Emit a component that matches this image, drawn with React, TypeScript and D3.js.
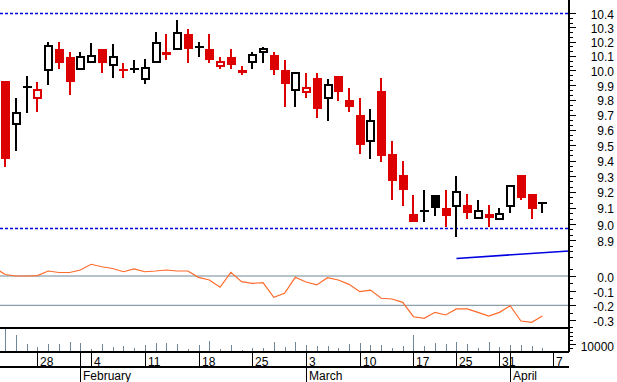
import React from "react";
import * as d3 from "d3";

// ---- data (trading days, Jan 23 2008 .. Apr 4 2008) ----
const dates = [
  "2008-01-23","2008-01-24","2008-01-25",
  "2008-01-28","2008-01-29","2008-01-30","2008-01-31","2008-02-01",
  "2008-02-04","2008-02-05","2008-02-06","2008-02-07","2008-02-08",
  "2008-02-11","2008-02-12","2008-02-13","2008-02-14","2008-02-15",
  "2008-02-18","2008-02-19","2008-02-20","2008-02-21","2008-02-22",
  "2008-02-25","2008-02-26","2008-02-27","2008-02-28","2008-02-29",
  "2008-03-03","2008-03-04","2008-03-05","2008-03-06","2008-03-07",
  "2008-03-10","2008-03-11","2008-03-12","2008-03-13","2008-03-14",
  "2008-03-17","2008-03-18","2008-03-19","2008-03-20",
  "2008-03-25","2008-03-26","2008-03-27","2008-03-28",
  "2008-03-31","2008-04-01","2008-04-02","2008-04-03","2008-04-04",
];
const prevClose = 9.95;
const opens = [9.93,9.64,9.89,9.81,10.00,10.15,10.09,10.01,10.06,10.15,10.04,10.00,10.01,9.94,10.06,10.13,10.15,10.25,10.16,10.15,10.03,10.09,10.00,10.06,10.13,10.11,10.00,9.87,9.85,9.95,9.81,9.96,9.80,9.70,9.53,9.86,9.44,9.31,9.06,9.08,9.18,9.10,9.11,9.12,9.04,9.06,9.03,9.11,9.31,9.19,9.13];
const highs = [9.93,9.81,9.96,9.92,10.20,10.20,10.13,10.13,10.19,10.15,10.18,10.05,10.07,10.08,10.27,10.25,10.35,10.29,10.20,10.25,10.09,10.15,10.03,10.13,10.16,10.13,10.07,9.99,9.98,9.98,9.94,9.96,9.88,9.81,9.74,9.95,9.53,9.40,9.18,9.21,9.18,9.21,9.30,9.19,9.15,9.12,9.10,9.24,9.31,9.19,9.14];
const lows = [9.36,9.46,9.71,9.72,9.90,10.01,9.83,10.01,10.06,9.98,9.95,9.95,9.98,9.91,10.06,10.07,10.14,10.05,10.09,10.05,10.01,10.01,9.97,10.01,10.05,9.97,9.75,9.75,9.81,9.68,9.66,9.79,9.72,9.44,9.41,9.39,9.15,9.11,9.01,9.01,9.05,8.98,8.92,9.03,9.04,8.98,9.03,9.07,9.15,9.03,9.07];
const closes = [9.41,9.71,9.89,9.87,10.17,10.05,9.92,10.09,10.10,10.05,10.09,10.00,10.01,10.02,10.19,10.11,10.26,10.15,10.16,10.07,10.06,10.04,9.98,10.11,10.15,10.00,9.91,9.98,9.88,9.74,9.90,9.85,9.75,9.50,9.66,9.43,9.27,9.21,9.01,9.08,9.10,9.05,9.20,9.07,9.08,9.04,9.06,9.24,9.16,9.09,9.13];
const volumes = [32000,21000,10000,6600,10000,10000,12900,10900,3800,10000,6600,7900,5400,8800,11600,10900,10000,3800,8800,13800,3800,8800,2500,5400,5400,12100,6600,12100,8800,7900,7900,4600,10000,11600,8800,8800,4600,7900,21300,7900,10900,9600,12100,9600,5400,12100,6600,8800,8800,7900,5400];
// oscillator, first value belongs to the day before the first candle (Jan 22)
const oscValues = [0.057,0.010,0.0,0.0,0.003,0.034,0.024,0.024,0.041,0.080,0.063,0.051,0.029,0.048,0.029,0.034,0.041,0.034,0.034,-0.009,-0.027,-0.077,0.025,-0.039,-0.050,-0.046,-0.145,-0.118,-0.009,-0.041,-0.061,-0.012,-0.027,-0.057,-0.107,-0.096,-0.152,-0.157,-0.180,-0.278,-0.289,-0.248,-0.266,-0.225,-0.225,-0.248,-0.273,-0.248,-0.203,-0.307,-0.316,-0.273];
const levels = [10.40, 8.975];
const trendIdx = [42, 52.5];
const trendVals = [8.79, 8.835];
const priceTicks = [10.4,10.3,10.2,10.1,10.0,9.9,9.8,9.7,9.6,9.5,9.4,9.3,9.2,9.1,9.0,8.9];
const oscTicks = [0.0,-0.1,-0.2,-0.3];
const oscLines = [0.0,-0.2];
const volTicks = [10000];
const weekLabels = ["28","4","11","18","25","3","10","17","25","31","7"];
const weekIdx = [3,8,13,18,23,28,33,38,42,46,51];
const monthLabels = ["February","March","April"];
const monthIdx = [7,28,47];

const RED = "#dc0000";
const GREY = "#6f8796";
const FONT = "'Liberation Sans', Arial, sans-serif";

export default function App() {
  const W = 617, H = 382;
  const axisX = 569;
  const x = d3.scaleLinear().domain([0, 50]).range([5.2, 542.4]);
  const yP = d3.scaleLog().domain([9.0, 10.4]).range([224, 13.3]);
  const yO = d3.scaleLinear().domain([0, -0.2]).range([276, 305.3]);
  const yV = d3.scaleLinear().domain([0, 10000]).range([352, 344]);

  const candles = dates.map((d, i) => ({
    i, o: opens[i], h: highs[i], l: lows[i], c: closes[i],
    pc: i === 0 ? prevClose : closes[i - 1],
  }));

  const oscLine = d3.line<number>().x((_, k) => x(k - 1)).y((v) => yO(v));
  const trendLine = d3.line<number>().x((_, k) => x(trendIdx[k])).y((v) => yP(v));

  // minor ticks for price axis
  const minorP: number[] = [];
  for (let k = 0; k <= 48; k++) minorP.push(8.8 + k * (0.1 / 3));

  return (
    <div style={{ position: "absolute", left: 0, top: 0 }}>
      <svg width={W} height={H} style={{ display: "block", background: "#fff" }} fontFamily={FONT}>
        <defs>
          <clipPath id="cp"><rect x={0} y={0} width={axisX} height={265} /></clipPath>
          <clipPath id="co"><rect x={0} y={262} width={axisX} height={66} /></clipPath>
          <clipPath id="cv"><rect x={0} y={328} width={axisX} height={24} /></clipPath>
        </defs>

        {/* price panel */}
        <g clipPath="url(#cp)">
          {levels.map((v, k) => (
            <line key={k} x1={0} x2={axisX} y1={Math.round(yP(v)) + 0.5} y2={Math.round(yP(v)) + 0.5}
              stroke="#0000dd" strokeWidth={1.3} strokeDasharray="3,2" />
          ))}
          <path d={trendLine(trendVals) || ""} fill="none" stroke="#0000e0" strokeWidth={1.5} />
          {candles.map((c) => {
            const cx = Math.round(x(c.i));
            const col = c.c < c.pc ? RED : "#000";
            const top = yP(Math.max(c.o, c.c));
            const bot = yP(Math.min(c.o, c.c));
            const cross = Math.abs(c.c - c.o) < 0.005;
            const filled = c.c < c.o;
            return (
              <g key={c.i} shapeRendering="crispEdges">
                <line x1={cx} x2={cx} y1={yP(c.h)} y2={yP(c.l)} stroke={col} strokeWidth={2} />
                {cross ? (
                  <line x1={cx - 4.5} x2={cx + 4.5} y1={top} y2={top} stroke={col} strokeWidth={2} />
                ) : filled ? (
                  <rect x={cx - 4.5} y={top} width={9} height={Math.max(bot - top, 1)} fill={col} />
                ) : (
                  <rect x={cx - 3.5} y={top} width={7} height={Math.max(bot - top, 1)} fill="#fff" stroke={col} strokeWidth={2} />
                )}
              </g>
            );
          })}
        </g>

        {/* oscillator panel */}
        <g clipPath="url(#co)">
          {oscLines.map((v, k) => (
            <line key={k} x1={0} x2={axisX} y1={yO(v)} y2={yO(v)} stroke={GREY} strokeWidth={1} />
          ))}
          <path d={oscLine(oscValues) || ""} fill="none" stroke="#ff6a2a" strokeWidth={1.2} />
        </g>

        {/* volume panel */}
        <g clipPath="url(#cv)" shapeRendering="crispEdges">
          {volumes.map((v, i) => (
            <line key={i} x1={Math.round(x(i)) + 0.5} x2={Math.round(x(i)) + 0.5} y1={yV(0)} y2={yV(v)} stroke={GREY} strokeWidth={1.5} />
          ))}
        </g>

        {/* frame lines */}
        <g stroke="#000" strokeWidth={1.3} shapeRendering="crispEdges">
          <line x1={0} x2={axisX} y1={328} y2={328} />
          <line x1={0} x2={axisX} y1={352} y2={352} />
          <line x1={0} x2={axisX} y1={367} y2={367} />
          <line x1={axisX} x2={axisX} y1={0} y2={352} />
        </g>

        {/* right axis ticks and labels */}
        <g stroke="#000" strokeWidth={1} shapeRendering="crispEdges">
          {minorP.filter((v) => yP(v) >= 0 && yP(v) <= 262).map((v, k) => (
            <line key={k} x1={axisX} x2={axisX + 4} y1={Math.round(yP(v)) + 0.5} y2={Math.round(yP(v)) + 0.5} />
          ))}
          {priceTicks.map((v, k) => (
            <line key={k} x1={axisX} x2={axisX + 7} y1={Math.round(yP(v)) + 0.5} y2={Math.round(yP(v)) + 0.5} />
          ))}
          {d3.range(0.05, -0.36, -0.05).map((v, k) => (
            <line key={k} x1={axisX} x2={axisX + (Math.abs(Math.round(v * 100)) % 10 === 0 ? 7 : 4)} y1={Math.round(yO(v)) + 0.5} y2={Math.round(yO(v)) + 0.5} />
          ))}
          {[5000, 15000, 20000, 25000].map((v, k) => (
            <line key={k} x1={axisX} x2={axisX + 4} y1={Math.round(yV(v)) + 0.5} y2={Math.round(yV(v)) + 0.5} />
          ))}
          {volTicks.map((v, k) => (
            <line key={k} x1={axisX} x2={axisX + 7} y1={Math.round(yV(v)) + 0.5} y2={Math.round(yV(v)) + 0.5} />
          ))}
        </g>
        <g fontSize={12} fill="#000" textAnchor="end">
          {priceTicks.map((v, k) => (
            <text key={k} x={614} y={yP(v) + 5.5}>{v.toFixed(1)}</text>
          ))}
          {oscTicks.map((v, k) => (
            <text key={k} x={614} y={yO(v) + 6}>{v === 0 ? "0.0" : v.toFixed(1)}</text>
          ))}
          {volTicks.map((v, k) => (
            <text key={k} x={614} y={yV(v) + 7}>{String(v)}</text>
          ))}
        </g>

        {/* date axis */}
        <g stroke="#000" strokeWidth={1} shapeRendering="crispEdges">
          {weekIdx.map((i, k) => (
            <line key={k} x1={Math.round(x(i)) + 0.5} x2={Math.round(x(i)) + 0.5} y1={352} y2={367} />
          ))}
          {monthIdx.map((i, k) => (
            <line key={k} x1={Math.round(x(i)) + 0.5} x2={Math.round(x(i)) + 0.5} y1={352} y2={382} />
          ))}
        </g>
        <g fontSize={12} fill="#000">
          {weekLabels.map((t, k) => (
            <text key={k} x={Math.round(x(weekIdx[k])) + 3} y={365.5}>{t}</text>
          ))}
          {monthLabels.map((t, k) => (
            <text key={k} x={Math.round(x(monthIdx[k])) + 3} y={379.5}>{t}</text>
          ))}
        </g>
      </svg>
    </div>
  );
}
